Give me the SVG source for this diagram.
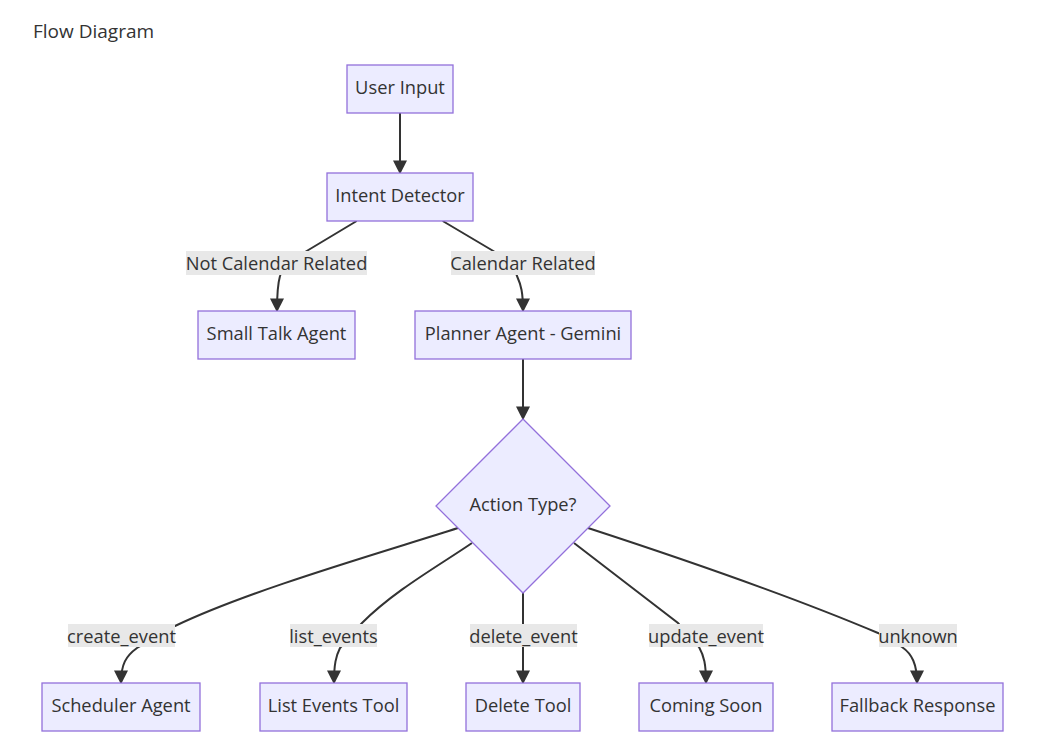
<svg xmlns="http://www.w3.org/2000/svg" width="1049" height="747" viewBox="0 0 1049 747">
<style>
  .node rect, .node polygon { fill: #ECECFF; stroke: #9370DB; stroke-width: 1.3; }
  .node text, .lbl text, .title { font-family: "Open Sans", "Noto Sans", "Liberation Sans", sans-serif; font-size: 18.3px; fill: #333; text-anchor: middle; dominant-baseline: central; }
  .title { text-anchor: start; dominant-baseline: alphabetic; font-size: 19px; }
  .edge { fill: none; stroke: #333; stroke-width: 2; marker-end: url(#arrow); }
  .lbl rect { fill: #e8e8e8; }
</style>
<defs>
  <marker id="arrow" viewBox="0 0 10 10" refX="9" refY="5" markerUnits="userSpaceOnUse" markerWidth="14" markerHeight="15" orient="auto">
    <path d="M0,0 L10,5 L0,10 z" fill="#333"/>
  </marker>
</defs>
<rect x="0" y="0" width="1049" height="747" fill="#ffffff"/>
<text class="title" x="33" y="38">Flow Diagram</text>

<g id="connectors">
  <path class="edge" d="M400,113 L400,173"/>
  <path class="edge" d="M356.7,221 L306.7,251 C 290,261 282,268 280,276 C 278,283 277,290 277,311"/>
  <path class="edge" d="M442.7,221 L493.3,251 C 505,258 514,266 517,276 C 521,285 523,292 523,311"/>
  <path class="edge" d="M523,359 L523,419"/>
  <path class="edge" d="M458,528 C 380,553 250,590 175,626 L137,648 C 126,656 121,664 121,683"/>
  <path class="edge" d="M472,543 C 440,565 395,590 362,623 L340,648 C 336,656 334,664 334,683"/>
  <path class="edge" d="M523,593 L523,683"/>
  <path class="edge" d="M574,543 C 609,570 643,596 678,623 L699,647 C 704,656 706,664 706,683"/>
  <path class="edge" d="M588,528 C 680,558 800,600 878,633 L902,647 C 912,654 917,664 917,683"/>
</g>

<g id="edge-labels">
  <g class="lbl"><rect x="186" y="251" width="181" height="24"/><text x="276.5" y="262.5">Not Calendar Related</text></g>
  <g class="lbl"><rect x="451" y="251" width="144" height="24"/><text x="523" y="262.5">Calendar Related</text></g>
  <g class="lbl"><rect x="68" y="624" width="107" height="23"/><text x="121.5" y="635">create_event</text></g>
  <g class="lbl"><rect x="290" y="624" width="87" height="23"/><text x="333.5" y="635">list_events</text></g>
  <g class="lbl"><rect x="470" y="624" width="107" height="23"/><text x="523.5" y="635">delete_event</text></g>
  <g class="lbl"><rect x="649" y="624" width="114" height="23"/><text x="706" y="635">update_event</text></g>
  <g class="lbl"><rect x="879" y="624" width="78" height="23"/><text x="918" y="635">unknown</text></g>
</g>

<g id="user-input" class="node"><rect x="347" y="65" width="106" height="48"/><text x="400" y="86.5">User Input</text></g>
<g id="intent-detector" class="node"><rect x="327" y="173" width="146" height="48"/><text x="400" y="194.5">Intent Detector</text></g>
<g id="small-talk-agent" class="node"><rect x="198" y="311" width="157" height="48"/><text x="276.5" y="332.5">Small Talk Agent</text></g>
<g id="planner-agent" class="node"><rect x="415" y="311" width="216" height="48"/><text x="523" y="332.5">Planner Agent - Gemini</text></g>
<g id="action-type" class="node"><polygon points="523,419 610,506 523,593 436,506"/><text x="523" y="503">Action Type?</text></g>
<g id="scheduler-agent" class="node"><rect x="42" y="683" width="158" height="48"/><text x="121" y="704.5">Scheduler Agent</text></g>
<g id="list-events-tool" class="node"><rect x="260" y="683" width="147" height="48"/><text x="333.5" y="704.5">List Events Tool</text></g>
<g id="delete-tool" class="node"><rect x="466" y="683" width="114" height="48"/><text x="523" y="704.5">Delete Tool</text></g>
<g id="coming-soon" class="node"><rect x="639" y="683" width="134" height="48"/><text x="706" y="704.5">Coming Soon</text></g>
<g id="fallback-response" class="node"><rect x="832" y="683" width="171" height="48"/><text x="917.5" y="704.5">Fallback Response</text></g>
</svg>
